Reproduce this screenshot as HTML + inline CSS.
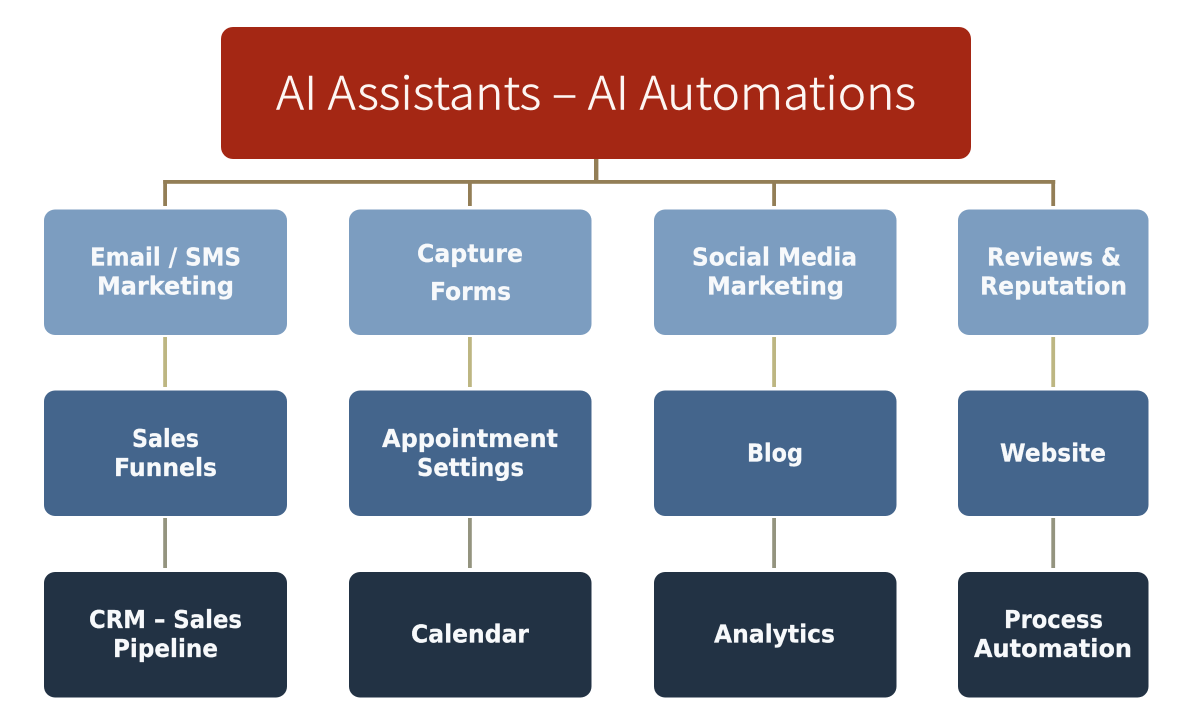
<!DOCTYPE html>
<html>
<head>
<meta charset="utf-8">
<style>
html,body{margin:0;padding:0;background:#fff}
svg{display:block}
text{font-family:"DejaVu Sans","Liberation Sans",sans-serif;font-weight:700;font-size:25px;fill:#f7f9fb;stroke:#f7f9fb;stroke-width:.25px}
.t{font-family:"Noto Sans CJK JP","Liberation Sans",sans-serif;font-weight:300;font-size:46px;fill:#fdf6f3;stroke:#fdf6f3;stroke-width:.45px}
</style>
</head>
<body>
<svg width="1200" height="728" viewBox="0 0 1200 728" xmlns="http://www.w3.org/2000/svg">
<rect width="1200" height="728" fill="#fff"/>
<rect x="221" y="27" width="750" height="132" rx="12" fill="#a42714"/>
<g fill="#937e56">
<rect x="594" y="159" width="4.4" height="24"/>
<rect x="163.2" y="180" width="892" height="3.8"/>
<rect x="163.2" y="180" width="3.8" height="26"/>
<rect x="468" y="180" width="3.8" height="26"/>
<rect x="772.2" y="180" width="3.8" height="26"/>
<rect x="1051.3" y="180" width="3.8" height="26"/>
</g>
<g fill="#bdb682">
<rect x="163.2" y="337" width="3.8" height="50"/>
<rect x="468" y="337" width="3.8" height="50"/>
<rect x="772.2" y="337" width="3.8" height="50"/>
<rect x="1051.3" y="337" width="3.8" height="50"/>
</g>
<g fill="#94947f">
<rect x="163.2" y="518" width="3.8" height="50"/>
<rect x="468" y="518" width="3.8" height="50"/>
<rect x="772.2" y="518" width="3.8" height="50"/>
<rect x="1051.3" y="518" width="3.8" height="50"/>
</g>
<g fill="#7c9dc0">
<rect x="44" y="209.5" width="243" height="125.5" rx="11"/>
<rect x="349" y="209.5" width="242.5" height="125.5" rx="11"/>
<rect x="654" y="209.5" width="242.5" height="125.5" rx="11"/>
<rect x="958" y="209.5" width="190.5" height="125.5" rx="11"/>
</g>
<g fill="#44658c">
<rect x="44" y="390.5" width="243" height="125.5" rx="11"/>
<rect x="349" y="390.5" width="242.5" height="125.5" rx="11"/>
<rect x="654" y="390.5" width="242.5" height="125.5" rx="11"/>
<rect x="958" y="390.5" width="190.5" height="125.5" rx="11"/>
</g>
<g fill="#223244">
<rect x="44" y="572" width="243" height="125.5" rx="11"/>
<rect x="349" y="572" width="242.5" height="125.5" rx="11"/>
<rect x="654" y="572" width="242.5" height="125.5" rx="11"/>
<rect x="958" y="572" width="190.5" height="125.5" rx="11"/>
</g>
<text class="t" x="276" y="109.5" textLength="640" lengthAdjust="spacingAndGlyphs">AI Assistants – AI Automations</text>
<g>
<text x="90" y="265.5" textLength="151" lengthAdjust="spacingAndGlyphs">Email / SMS</text>
<text x="97" y="294.5" textLength="137" lengthAdjust="spacingAndGlyphs">Marketing</text>
<text x="417" y="262" textLength="106" lengthAdjust="spacingAndGlyphs">Capture</text>
<text x="430" y="300" textLength="81" lengthAdjust="spacingAndGlyphs">Forms</text>
<text x="692" y="265.5" textLength="165" lengthAdjust="spacingAndGlyphs">Social Media</text>
<text x="707" y="294.5" textLength="137" lengthAdjust="spacingAndGlyphs">Marketing</text>
<text x="987" y="265.5" textLength="134" lengthAdjust="spacingAndGlyphs">Reviews &amp;</text>
<text x="980" y="294.5" textLength="147" lengthAdjust="spacingAndGlyphs">Reputation</text>
<text x="132" y="447" textLength="67" lengthAdjust="spacingAndGlyphs">Sales</text>
<text x="114" y="476" textLength="103" lengthAdjust="spacingAndGlyphs">Funnels</text>
<text x="382" y="447" textLength="176" lengthAdjust="spacingAndGlyphs">Appointment</text>
<text x="417" y="476" textLength="107" lengthAdjust="spacingAndGlyphs">Settings</text>
<text x="747" y="461.5" textLength="56" lengthAdjust="spacingAndGlyphs">Blog</text>
<text x="1000" y="461.5" textLength="106" lengthAdjust="spacingAndGlyphs">Website</text>
<text x="89" y="628" textLength="153" lengthAdjust="spacingAndGlyphs">CRM – Sales</text>
<text x="113" y="657" textLength="105" lengthAdjust="spacingAndGlyphs">Pipeline</text>
<text x="411" y="642.5" textLength="118" lengthAdjust="spacingAndGlyphs">Calendar</text>
<text x="714" y="642.5" textLength="121" lengthAdjust="spacingAndGlyphs">Analytics</text>
<text x="1004" y="628" textLength="99" lengthAdjust="spacingAndGlyphs">Process</text>
<text x="974" y="657" textLength="158" lengthAdjust="spacingAndGlyphs">Automation</text>
</g>
</svg>
</body>
</html>
